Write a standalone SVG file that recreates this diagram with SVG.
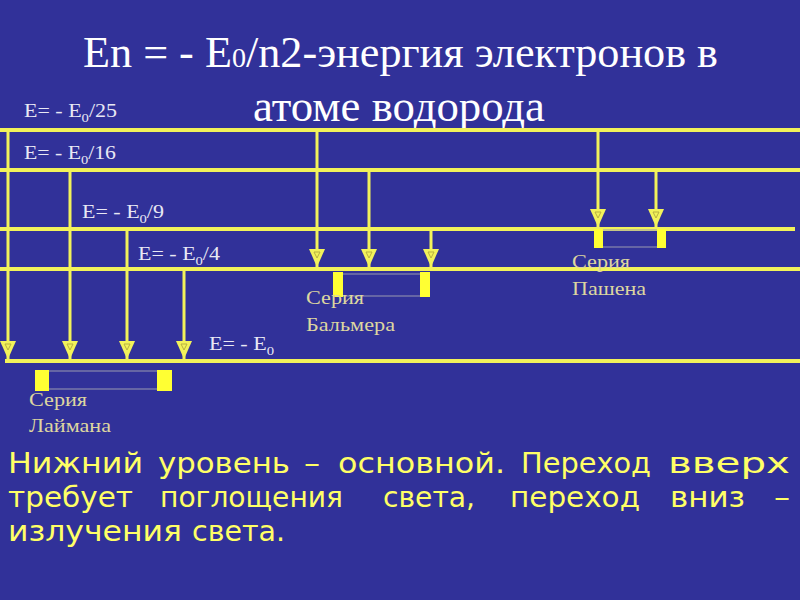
<svg xmlns="http://www.w3.org/2000/svg" width="800" height="600" viewBox="0 0 800 600">
<style>
.lvl{stroke:#f2f25a;stroke-width:4;fill:none}
.tr{stroke:#f2f25a;stroke-width:3;fill:none;marker-end:url(#ah)}
.lab{font-family:"Liberation Serif",serif;font-size:18px;fill:#e8e8f4}
.sub{font-size:12px}
.ser{font-family:"Liberation Serif",serif;font-size:19px;fill:#ddd6a0}
.title{font-family:"Liberation Serif",serif;font-size:44px;fill:#ffffff}
.body{font-family:"DejaVu Sans",sans-serif;font-size:28px;fill:#ffff66}
.sq{fill:#ffff33}
.br{fill:none;stroke:#9a9ab0;stroke-width:1}
</style>
<defs>
<marker id="ah" markerUnits="userSpaceOnUse" viewBox="0 0 16 18" markerWidth="16" markerHeight="18" refX="8" refY="18" orient="0">
<polygon points="0,0 16,0 8,18" fill="#f2f25a"/>
<polygon points="5,3 11,3 8,9" fill="none" stroke="#b8b040" stroke-width="1"/>
</marker>
</defs>
<rect width="800" height="600" fill="#313199"/>
<g id="title">
<text class="title" x="83" y="67" textLength="635" lengthAdjust="spacingAndGlyphs">En = - E<tspan font-size="28">0</tspan>/n2-энергия электронов в</text>
<text class="title" x="253" y="121" textLength="292" lengthAdjust="spacingAndGlyphs">атоме водорода</text>
</g>
<g id="levels">
<line class="lvl" x1="0" y1="130" x2="800" y2="130"/>
<line class="lvl" x1="0" y1="170" x2="800" y2="170"/>
<line class="lvl" x1="0" y1="229" x2="795" y2="229"/>
<line class="lvl" x1="0" y1="269" x2="800" y2="269"/>
<line class="lvl" x1="5" y1="361" x2="800" y2="361"/>
</g>
<g id="level-labels">
<text class="lab" x="24" y="117" textLength="93" lengthAdjust="spacingAndGlyphs">E= - E<tspan class="sub" dy="5">0</tspan><tspan dy="-5">/25</tspan></text>
<text class="lab" x="24" y="159" textLength="92" lengthAdjust="spacingAndGlyphs">E= - E<tspan class="sub" dy="5">0</tspan><tspan dy="-5">/16</tspan></text>
<text class="lab" x="82" y="218" textLength="82" lengthAdjust="spacingAndGlyphs">E= - E<tspan class="sub" dy="5">0</tspan><tspan dy="-5">/9</tspan></text>
<text class="lab" x="138" y="260" textLength="82" lengthAdjust="spacingAndGlyphs">E= - E<tspan class="sub" dy="5">0</tspan><tspan dy="-5">/4</tspan></text>
<text class="lab" x="209" y="350" textLength="65" lengthAdjust="spacingAndGlyphs">E= - E<tspan class="sub" dy="5">0</tspan></text>
</g>
<g id="connectors">
<line class="tr" x1="8" y1="130" x2="8" y2="359"/>
<line class="tr" x1="70" y1="170" x2="70" y2="359"/>
<line class="tr" x1="127" y1="229" x2="127" y2="359"/>
<line class="tr" x1="184" y1="269" x2="184" y2="359"/>
<line class="tr" x1="317" y1="130" x2="317" y2="267"/>
<line class="tr" x1="369" y1="170" x2="369" y2="267"/>
<line class="tr" x1="431" y1="229" x2="431" y2="267"/>
<line class="tr" x1="598" y1="130" x2="598" y2="227"/>
<line class="tr" x1="656" y1="170" x2="656" y2="227"/>
</g>
<g id="lyman">
<rect class="br" x="42" y="371" width="122" height="18"/>
<rect class="sq" x="35" y="370" width="14" height="21"/>
<rect class="sq" x="157" y="370" width="15" height="21"/>
<text class="ser" x="29" y="406" textLength="58" lengthAdjust="spacingAndGlyphs">Серия</text>
<text class="ser" x="29" y="432" textLength="82" lengthAdjust="spacingAndGlyphs">Лаймана</text>
</g>
<g id="balmer">
<rect class="br" x="338" y="274" width="88" height="22"/>
<rect class="sq" x="333" y="272" width="10" height="25"/>
<rect class="sq" x="420" y="272" width="10" height="25"/>
<text class="ser" x="306" y="304" textLength="58" lengthAdjust="spacingAndGlyphs">Серия</text>
<text class="ser" x="306" y="331" textLength="89" lengthAdjust="spacingAndGlyphs">Бальмера</text>
</g>
<g id="paschen">
<rect class="br" x="599" y="230" width="62" height="17"/>
<rect class="sq" x="594" y="229" width="9" height="19"/>
<rect class="sq" x="657" y="229" width="9" height="19"/>
<text class="ser" x="572" y="268" textLength="58" lengthAdjust="spacingAndGlyphs">Серия</text>
<text class="ser" x="572" y="295" textLength="74" lengthAdjust="spacingAndGlyphs">Пашена</text>
</g>
<g id="caption">
<text class="body" x="8" y="473" textLength="135" lengthAdjust="spacingAndGlyphs">Нижний</text>
<text class="body" x="158" y="473" textLength="132" lengthAdjust="spacingAndGlyphs">уровень</text>
<text class="body" x="304" y="473" textLength="16" lengthAdjust="spacingAndGlyphs">–</text>
<text class="body" x="338" y="473" textLength="167" lengthAdjust="spacingAndGlyphs">основной.</text>
<text class="body" x="521" y="473" textLength="130" lengthAdjust="spacingAndGlyphs">Переход</text>
<text class="body" x="668" y="473" textLength="122" lengthAdjust="spacingAndGlyphs">вверх</text>
<text class="body" x="8" y="507" textLength="125" lengthAdjust="spacingAndGlyphs">требует</text>
<text class="body" x="160" y="507" textLength="183" lengthAdjust="spacingAndGlyphs">поглощения</text>
<text class="body" x="383" y="507" textLength="92" lengthAdjust="spacingAndGlyphs">света,</text>
<text class="body" x="510" y="507" textLength="130" lengthAdjust="spacingAndGlyphs">переход</text>
<text class="body" x="670" y="507" textLength="75" lengthAdjust="spacingAndGlyphs">вниз</text>
<text class="body" x="774" y="507" textLength="16" lengthAdjust="spacingAndGlyphs">–</text>
<text class="body" x="8" y="541" textLength="174" lengthAdjust="spacingAndGlyphs">излучения</text>
<text class="body" x="192" y="541" textLength="93" lengthAdjust="spacingAndGlyphs">света.</text>
</g>
</svg>
